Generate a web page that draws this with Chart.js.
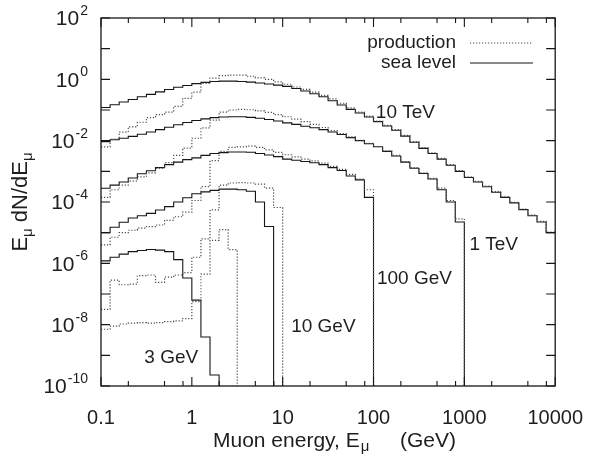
<!DOCTYPE html>
<html>
<head>
<meta charset="utf-8">
<script src="https://cdn.jsdelivr.net/npm/chart.js@4.4.1/dist/chart.umd.min.js"></script>
<style>
  html, body { margin: 0; padding: 0; background: #ffffff; }
  #wrap { width: 595px; height: 457px; position: relative; }
</style>
</head>
<body>
<div id="wrap"><canvas id="chart" width="595" height="457"></canvas></div>
<script>
// ---------- data ----------
// histogram bin edges (GeV), 10 bins per decade
const binEdges = [0.1, 0.1259, 0.1585, 0.1995, 0.2512, 0.3162, 0.3981, 0.5012, 0.631, 0.7943,
  1, 1.259, 1.585, 1.995, 2.512, 3.162, 3.981, 5.012, 6.31, 7.943,
  10, 12.59, 15.85, 19.95, 25.12, 31.62, 39.81, 50.12, 63.1, 79.43,
  100, 125.9, 158.5, 199.5, 251.2, 316.2, 398.1, 501.2, 631, 794.3,
  1000, 1259, 1585, 1995, 2512, 3162, 3981, 5012, 6310, 7943, 10000];

const xTickValues = [0.1, 1, 10, 100, 1000, 10000];
const xTickLabels = ['0.1', '1', '10', '100', '1000', '10000'];
const xMinorTickValues = [0.2, 0.5, 0.8, 2, 5, 8, 20, 50, 80, 200, 500, 800, 2000, 5000, 8000];
const yDecadeExponents = [2, 1, 0, -1, -2, -3, -4, -5, -6, -7, -8, -9, -10];
const yTickExponents = [2, 0, -2, -4, -6, -8, -10];

// primary energies
const primaryLabels = ['3 GeV', '10 GeV', '100 GeV', '1 TeV', '10 TeV'];
// label anchor (muon energy GeV, E dN/dE) for each primary
const labelAnchorsE = [0.30, 12.4, 109, 1138, 106];
const labelAnchorsV = [8.1e-10, 8.5e-9, 3.1e-7, 4.0e-6, 8.0e-2];

// E dN/dE per bin, starting at 0.1 GeV
const production3GeV = [7.08e-9, 8.91e-9, 1.05e-8, 1.12e-8, 1.17e-8, 1.12e-8, 1.17e-8, 1.26e-8, 1.32e-8, 1.58e-8,
  5.62e-8, 4.47e-7, 5.62e-6, 1.26e-5, 2.82e-6];
const seaLevel3GeV = [1.2e-6, 1.58e-6, 2.0e-6, 2.4e-6, 2.63e-6, 2.82e-6, 2.69e-6, 2.4e-6, 1.32e-6, 3.31e-7,
  6.31e-8, 3.98e-9, 2.29e-10];

const production10GeV = [3.16e-8, 2.82e-7, 2.0e-7, 2.09e-7, 3.98e-7, 4.17e-7, 2.4e-7, 3.55e-7, 4.17e-7, 5.01e-7,
  1.58e-6, 6.31e-6, 5.5e-5, 3.55e-4, 4.17e-4, 4.27e-4, 4.17e-4, 3.8e-4, 2.82e-4, 6.61e-5];
const seaLevel10GeV = [1.0e-5, 1.51e-5, 2.19e-5, 3.02e-5, 3.55e-5, 4.27e-5, 5.5e-5, 7.08e-5, 1.0e-4, 1.38e-4,
  1.86e-4, 2.14e-4, 2.4e-4, 2.63e-4, 2.63e-4, 2.51e-4, 2.24e-4, 1.0e-4, 1.58e-5];

const production100GeV = [3.98e-6, 7.08e-6, 1.0e-5, 1.2e-5, 1.41e-5, 1.58e-5, 1.78e-5, 2.51e-5, 3.31e-5, 4.68e-5,
  1.12e-4, 3.16e-4, 2.24e-3, 4.47e-3, 6.03e-3, 6.31e-3, 6.61e-3, 6.03e-3, 5.01e-3, 4.17e-3,
  3.47e-3, 2.95e-3, 2.51e-3, 2.19e-3, 1.86e-3, 1.45e-3, 1.15e-3, 7.94e-4, 5.62e-4, 2.51e-4];
const seaLevel100GeV = [2.82e-4, 3.55e-4, 4.47e-4, 6.03e-4, 8.32e-4, 1.05e-3, 1.32e-3, 1.66e-3, 2.0e-3, 2.4e-3,
  2.75e-3, 3.31e-3, 3.8e-3, 4.07e-3, 4.27e-3, 4.27e-3, 4.17e-3, 3.8e-3, 3.39e-3, 3.02e-3,
  2.51e-3, 2.29e-3, 2.09e-3, 1.91e-3, 1.66e-3, 1.32e-3, 1.07e-3, 7.08e-4, 5.25e-4, 1.41e-4];

const production1TeV = [1.41e-4, 2.51e-4, 3.55e-4, 4.79e-4, 6.61e-4, 8.91e-4, 1.26e-3, 1.91e-3, 3.31e-3, 5.75e-3,
  1.2e-2, 2.63e-2, 4.68e-2, 8.51e-2, 1.0e-1, 1.05e-1, 1.02e-1, 9.33e-2, 8.32e-2, 7.08e-2,
  6.03e-2, 5.01e-2, 4.17e-2, 3.39e-2, 2.69e-2, 2.14e-2, 1.7e-2, 1.32e-2, 1.02e-2, 8.13e-3,
  6.46e-3, 4.68e-3, 3.31e-3, 2.09e-3, 1.32e-3, 8.91e-4, 5.89e-4, 2.82e-4, 1.12e-4, 2.82e-5];
const seaLevel1TeV = [9.33e-3, 1.07e-2, 1.2e-2, 1.38e-2, 1.62e-2, 1.91e-2, 2.29e-2, 2.75e-2, 3.31e-2, 3.89e-2,
  4.57e-2, 5.13e-2, 5.62e-2, 5.89e-2, 6.03e-2, 6.03e-2, 5.75e-2, 5.37e-2, 4.9e-2, 4.37e-2,
  3.8e-2, 3.39e-2, 2.95e-2, 2.63e-2, 2.29e-2, 1.91e-2, 1.58e-2, 1.26e-2, 1.0e-2, 7.94e-3,
  6.31e-3, 4.47e-3, 3.16e-3, 2.0e-3, 1.26e-3, 8.51e-4, 5.62e-4, 2.51e-4, 1.0e-4, 2.24e-5];

const production10TeV = [6.31e-3, 1.12e-2, 1.91e-2, 2.82e-2, 3.98e-2, 5.62e-2, 7.08e-2, 8.51e-2, 1.32e-1, 2.4e-1,
  3.8e-1, 7.41e-1, 1.1, 1.32, 1.38, 1.38, 1.26, 1.12, 1.0, 8.32e-1,
  6.92e-1, 5.62e-1, 4.68e-1, 3.8e-1, 3.02e-1, 2.29e-1, 1.66e-1, 1.17e-1, 8.51e-2, 6.31e-2,
  4.37e-2, 3.16e-2, 2.29e-2, 1.48e-2, 9.33e-3, 5.89e-3, 3.98e-3, 2.63e-3, 1.66e-3, 1.05e-3,
  6.61e-4, 4.68e-4, 3.31e-4, 2.19e-4, 1.48e-4, 9.77e-5, 5.89e-5, 3.72e-5, 2.34e-5, 1.05e-5];
const seaLevel10TeV = [1.2e-1, 1.48e-1, 1.82e-1, 2.19e-1, 2.69e-1, 3.24e-1, 3.89e-1, 4.68e-1, 5.5e-1, 6.31e-1,
  7.24e-1, 7.94e-1, 8.51e-1, 8.71e-1, 8.71e-1, 8.51e-1, 8.13e-1, 7.59e-1, 7.08e-1, 6.46e-1,
  5.89e-1, 5.01e-1, 4.17e-1, 3.39e-1, 2.69e-1, 2.0e-1, 1.45e-1, 1.05e-1, 7.94e-2, 5.89e-2,
  4.17e-2, 3.02e-2, 2.19e-2, 1.41e-2, 8.91e-3, 5.62e-3, 3.8e-3, 2.51e-3, 1.58e-3, 1.0e-3,
  6.31e-4, 4.47e-4, 3.16e-4, 2.09e-4, 1.41e-4, 9.33e-5, 5.62e-5, 3.55e-5, 2.24e-5, 1.0e-5];

const productionSeries = [production3GeV, production10GeV, production100GeV, production1TeV, production10TeV];
const seaLevelSeries = [seaLevel3GeV, seaLevel10GeV, seaLevel100GeV, seaLevel1TeV, seaLevel10TeV];

const legendLabels = ['production', 'sea level'];
const xTitleMain = 'Muon energy, E';
const xTitleUnit = '(GeV)';
const muSymbol = '\u03bc';

// ---------- chart ----------
const X_MIN = 0.1, X_MAX = 10000, Y_MIN = 1e-10, Y_MAX = 1e2;
const FONT = '"Liberation Sans", Arial, Helvetica, sans-serif';
const TEXT_COLOR = '#1e1e1e';
const SOLID_COLOR = '#151515';
const DOT_COLOR = '#4a4a4a';

function stepPoints(values) {
  const pts = values.map((v, i) => ({ x: binEdges[i], y: v }));
  const n = values.length;
  pts.push({ x: binEdges[n], y: values[n - 1] });
  if (binEdges[n] < X_MAX) pts.push({ x: binEdges[n], y: Y_MIN });
  return pts;
}

const datasets = [];
primaryLabels.forEach((name, k) => {
  datasets.push({
    label: 'production ' + name,
    data: stepPoints(productionSeries[k]),
    stepped: true,
    borderColor: DOT_COLOR,
    borderWidth: 1.2,
    borderDash: [1.2, 1.8],
    pointRadius: 0,
    fill: false
  });
});
primaryLabels.forEach((name, k) => {
  datasets.push({
    label: 'sea level ' + name,
    data: stepPoints(seaLevelSeries[k]),
    stepped: true,
    borderColor: SOLID_COLOR,
    borderWidth: 1.1,
    pointRadius: 0,
    fill: false
  });
});

const decorations = {
  id: 'decorations',
  afterDraw(chart) {
    const { ctx, chartArea: a, scales: { x, y } } = chart;
    ctx.save();
    // frame
    ctx.strokeStyle = '#161616';
    ctx.lineWidth = 1.3;
    ctx.strokeRect(a.left, a.top, a.right - a.left, a.bottom - a.top);
    // inward tick marks
    ctx.lineWidth = 1.1;
    ctx.beginPath();
    xTickValues.forEach(v => {
      const px = x.getPixelForValue(v);
      ctx.moveTo(px, a.bottom); ctx.lineTo(px, a.bottom - 9);
      ctx.moveTo(px, a.top); ctx.lineTo(px, a.top + 9);
    });
    xMinorTickValues.forEach(v => {
      const px = x.getPixelForValue(v);
      ctx.moveTo(px, a.bottom); ctx.lineTo(px, a.bottom - 5);
      ctx.moveTo(px, a.top); ctx.lineTo(px, a.top + 5);
    });
    yDecadeExponents.forEach(e => {
      const py = y.getPixelForValue(Math.pow(10, e));
      ctx.moveTo(a.left, py); ctx.lineTo(a.left + 9, py);
      ctx.moveTo(a.right, py); ctx.lineTo(a.right - 9, py);
    });
    ctx.stroke();

    ctx.fillStyle = TEXT_COLOR;
    // y tick labels 10^n
    const baseFont = '21px ' + FONT, supFont = '14px ' + FONT;
    ctx.textBaseline = 'middle';
    ctx.textAlign = 'left';
    yTickExponents.forEach(e => {
      const py = y.getPixelForValue(Math.pow(10, e));
      const exp = String(e);
      ctx.font = supFont; const wSup = ctx.measureText(exp).width;
      ctx.font = baseFont; const wBase = ctx.measureText('10').width;
      const right = a.left - 13;
      ctx.fillText('10', right - wSup - wBase - 1, py + 1.5);
      ctx.font = supFont;
      ctx.fillText(exp, right - wSup, py - 7);
    });

    // x title
    ctx.textBaseline = 'alphabetic';
    ctx.font = '21px ' + FONT;
    const tx0 = 213, ty = 447;
    ctx.fillText(xTitleMain, tx0, ty);
    const wMain = ctx.measureText(xTitleMain).width;
    ctx.font = '15px ' + FONT;
    ctx.fillText(muSymbol, tx0 + wMain + 1, ty + 4);
    ctx.font = '21px ' + FONT;
    ctx.fillText(xTitleUnit, 400, ty);

    // y title (rotated)
    ctx.save();
    ctx.translate(27, 202);
    ctx.rotate(-Math.PI / 2);
    const pieces = [['E', '22px ', 0], [muSymbol, '15px ', 5], [' dN/dE', '22px ', 0], [muSymbol, '15px ', 5]];
    let total = 0;
    pieces.forEach(p => { ctx.font = p[1] + FONT; total += ctx.measureText(p[0]).width; });
    let u = -total / 2;
    pieces.forEach(p => {
      ctx.font = p[1] + FONT;
      ctx.fillText(p[0], u, p[2]);
      u += ctx.measureText(p[0]).width;
    });
    ctx.restore();

    // legend
    ctx.font = '19px ' + FONT;
    ctx.textAlign = 'right';
    ctx.textBaseline = 'middle';
    const legY = [43, 63];
    legendLabels.forEach((t, i) => ctx.fillText(t, 456, legY[i]));
    ctx.lineWidth = 1.2;
    ctx.strokeStyle = DOT_COLOR;
    ctx.setLineDash([1.2, 1.8]);
    ctx.beginPath(); ctx.moveTo(470, legY[0]); ctx.lineTo(533, legY[0]); ctx.stroke();
    ctx.setLineDash([]);
    ctx.strokeStyle = SOLID_COLOR;
    ctx.lineWidth = 1.1;
    ctx.beginPath(); ctx.moveTo(470, legY[1]); ctx.lineTo(533, legY[1]); ctx.stroke();

    // curve labels
    ctx.textAlign = 'left';
    ctx.font = '19px ' + FONT;
    primaryLabels.forEach((t, k) => {
      ctx.fillText(t, x.getPixelForValue(labelAnchorsE[k]), y.getPixelForValue(labelAnchorsV[k]));
    });
    ctx.restore();
  }
};

new Chart(document.getElementById('chart'), {
  type: 'line',
  data: { datasets },
  options: {
    responsive: false,
    animation: false,
    devicePixelRatio: 1,
    layout: { padding: { left: 0, right: 33, top: 18, bottom: 0 } },
    plugins: { legend: { display: false }, tooltip: { enabled: false } },
    elements: { line: { tension: 0 } },
    scales: {
      x: {
        type: 'logarithmic',
        min: X_MIN, max: X_MAX,
        position: 'bottom',
        grid: { display: false },
        border: { display: false },
        afterBuildTicks: s => { s.ticks = xTickValues.map(v => ({ value: v })); },
        afterFit: s => { s.height = 71; },
        ticks: {
          autoSkip: false, maxRotation: 0, minRotation: 0,
          padding: 12,
          color: TEXT_COLOR,
          font: { family: FONT, size: 20 },
          callback: (v, i) => xTickLabels[i]
        }
      },
      y: {
        type: 'logarithmic',
        min: Y_MIN, max: Y_MAX,
        grid: { display: false },
        border: { display: false },
        afterBuildTicks: s => { s.ticks = yDecadeExponents.map(e => ({ value: Math.pow(10, e) })); },
        afterFit: s => { s.width = 101; },
        ticks: { display: false }
      }
    }
  },
  plugins: [decorations]
});
</script>
</body>
</html>
